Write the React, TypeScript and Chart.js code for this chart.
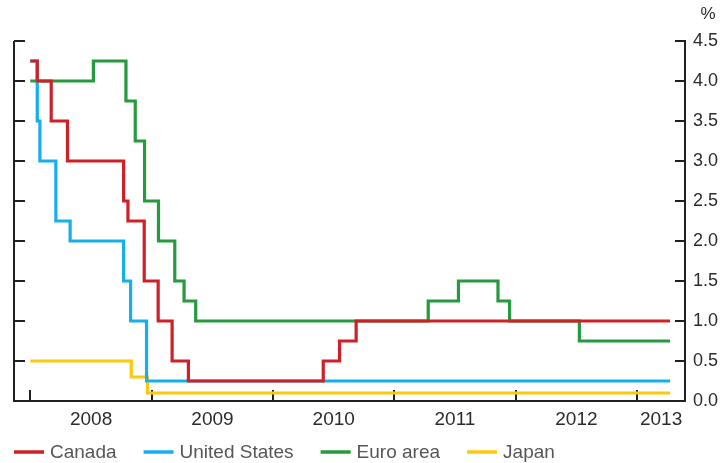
import { useEffect, useRef } from 'react';
import { Chart, registerables } from 'chart.js';

Chart.register(...registerables);

const FONT = '"Liberation Sans", Arial, Helvetica, sans-serif';
const AXIS_COLOR = '#231f20';
const TEXT_COLOR = '#2b2b2b';
const LEGEND_COLOR = '#555658';

const seriesNames = ['Canada', 'United States', 'Euro area', 'Japan'];
const seriesColors = ['#cf2027', '#14afec', '#27993f', '#fcc80e'];

const canadaDates = ['2008-01-01', '2008-01-22', '2008-03-04', '2008-04-22', '2008-10-08', '2008-10-21', '2008-12-09', '2009-01-20', '2009-03-03', '2009-04-21', '2010-06-01', '2010-07-20', '2010-09-08', '2013-04-10'];
const canadaRates = [4.25, 4.0, 3.5, 3.0, 2.5, 2.25, 1.5, 1.0, 0.5, 0.25, 0.5, 0.75, 1.0, 1.0];

const usDates = ['2008-01-01', '2008-01-22', '2008-01-30', '2008-03-18', '2008-04-30', '2008-10-08', '2008-10-29', '2008-12-16', '2013-04-10'];
const usRates = [4.25, 3.5, 3.0, 2.25, 2.0, 1.5, 1.0, 0.25, 0.25];

const euroDates = ['2008-01-01', '2008-07-09', '2008-10-15', '2008-11-12', '2008-12-10', '2009-01-21', '2009-03-11', '2009-04-08', '2009-05-13', '2011-04-13', '2011-07-13', '2011-11-09', '2011-12-14', '2012-07-11', '2013-04-10'];
const euroRates = [4.0, 4.25, 3.75, 3.25, 2.5, 2.0, 1.5, 1.25, 1.0, 1.25, 1.5, 1.25, 1.0, 0.75, 0.75];

const japanDates = ['2008-01-01', '2008-10-31', '2008-12-19', '2013-04-10'];
const japanRates = [0.5, 0.3, 0.1, 0.1];

const yearLabels = ['2008', '2009', '2010', '2011', '2012', '2013'];
const yearBoundaries = ['2008-01-01', '2009-01-01', '2010-01-01', '2011-01-01', '2012-01-01', '2013-01-01'];
const axisStart = '2007-11-13';
const axisEnd = '2013-05-25';
const yMin = 0;
const yMax = 4.5;
const yStep = 0.5;
const unitLabel = '%';

const toMs = (d: string) => Date.parse(d + 'T00:00:00Z');
const toPoints = (dates: string[], rates: number[]) => dates.map((d, i) => ({ x: toMs(d), y: rates[i] }));

export default function App() {
  const canvasRef = useRef<HTMLCanvasElement | null>(null);

  useEffect(() => {
    const canvas = canvasRef.current;
    if (!canvas) return;

    const xMin = toMs(axisStart);
    const xMax = toMs(axisEnd);
    const boundaryMs = yearBoundaries.map(toMs);
    const labelPositions = boundaryMs.map((b, i) =>
      i < boundaryMs.length - 1 ? (b + boundaryMs[i + 1]) / 2 : (b + xMax) / 2
    );

    const allSeries = [
      toPoints(canadaDates, canadaRates),
      toPoints(usDates, usRates),
      toPoints(euroDates, euroRates),
      toPoints(japanDates, japanRates),
    ];

    const decorPlugin = {
      id: 'decor',
      beforeDatasetsDraw(chart: any) {
        const { ctx, chartArea, scales } = chart;
        const xs = scales.x;
        const ys = scales.y;
        ctx.save();
        ctx.strokeStyle = AXIS_COLOR;
        ctx.lineWidth = 2;
        // left axis line
        ctx.beginPath();
        ctx.moveTo(chartArea.left, chartArea.top);
        ctx.lineTo(chartArea.left, chartArea.bottom + 1);
        ctx.stroke();
        // y ticks (inward, both sides)
        for (let v = yMin; v <= yMax + 1e-9; v += yStep) {
          const py = Math.round(ys.getPixelForValue(v));
          ctx.beginPath();
          ctx.moveTo(chartArea.left, py);
          ctx.lineTo(chartArea.left + 11, py);
          ctx.moveTo(chartArea.right, py);
          ctx.lineTo(chartArea.right - 10, py);
          ctx.stroke();
        }
        // x ticks (inward)
        boundaryMs.forEach((b) => {
          const px = Math.round(xs.getPixelForValue(b));
          ctx.beginPath();
          ctx.moveTo(px, chartArea.bottom);
          ctx.lineTo(px, chartArea.bottom - 11);
          ctx.stroke();
        });
        ctx.restore();
      },
      afterDraw(chart: any) {
        const { ctx, chartArea } = chart;
        ctx.save();
        // unit label
        ctx.fillStyle = TEXT_COLOR;
        ctx.font = `17px ${FONT}`;
        ctx.textAlign = 'center';
        ctx.textBaseline = 'middle';
        ctx.fillText(unitLabel, chartArea.right + 23, 14);
        // legend
        ctx.font = `19px ${FONT}`;
        ctx.textAlign = 'left';
        let x = 14;
        const y = 452;
        chart.data.datasets.forEach((ds: any) => {
          ctx.strokeStyle = ds.borderColor;
          ctx.lineWidth = 3.5;
          ctx.beginPath();
          ctx.moveTo(x, y);
          ctx.lineTo(x + 30, y);
          ctx.stroke();
          ctx.fillStyle = LEGEND_COLOR;
          ctx.fillText(ds.label, x + 36, y + 1);
          x += 36 + ctx.measureText(ds.label).width + 27;
        });
        ctx.restore();
      },
    };

    const chart = new Chart(canvas, {
      type: 'line',
      data: {
        datasets: allSeries.map((pts, i) => ({
          label: seriesNames[i],
          data: pts,
          borderColor: seriesColors[i],
          backgroundColor: seriesColors[i],
          borderWidth: 3.2,
          stepped: true,
          pointRadius: 0,
          fill: false,
        })),
      },
      options: {
        animation: false,
        responsive: false,
        maintainAspectRatio: false,
        layout: { padding: { left: 14, top: 41, right: 0, bottom: 0 } },
        plugins: { legend: { display: false }, tooltip: { enabled: false } },
        scales: {
          x: {
            type: 'linear',
            min: xMin,
            max: xMax,
            bounds: 'data',
            afterBuildTicks: (s: any) => {
              s.ticks = labelPositions.map((v) => ({ value: v }));
            },
            ticks: {
              autoSkip: false,
              maxRotation: 0,
              padding: 7,
              color: TEXT_COLOR,
              font: { family: FONT, size: 19 },
              callback: (_v: any, i: number) => yearLabels[i],
            },
            grid: { display: false, drawTicks: false },
            border: { display: true, color: AXIS_COLOR, width: 2 },
            afterFit: (s: any) => {
              s.height = 62;
            },
          },
          y: {
            type: 'linear',
            position: 'right',
            min: yMin,
            max: yMax,
            ticks: {
              stepSize: yStep,
              padding: 8,
              color: TEXT_COLOR,
              font: { family: FONT, size: 18 },
              callback: (v: any) => Number(v).toFixed(1),
            },
            grid: { display: false, drawTicks: false },
            border: { display: true, color: AXIS_COLOR, width: 2 },
            afterFit: (s: any) => {
              s.width = 40;
            },
          },
        },
      },
      plugins: [decorPlugin],
    } as any);

    return () => chart.destroy();
  }, []);

  return (
    <div style={{ position: 'absolute', left: 0, top: 0, width: 725, height: 463, background: '#fff' }}>
      <canvas ref={canvasRef} width={725} height={463} />
    </div>
  );
}
